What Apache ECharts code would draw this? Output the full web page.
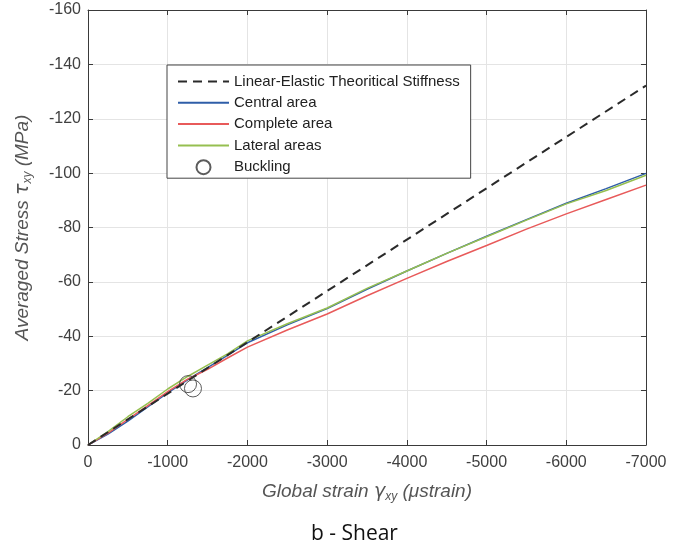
<!DOCTYPE html>
<html>
<head>
<meta charset="utf-8">
<script src="https://cdn.jsdelivr.net/npm/echarts@6/dist/echarts.min.js"></script>
<style>
html,body{margin:0;padding:0;background:#fff;}
#chart{width:687px;height:551px;}
</style>
</head>
<body>
<div id="chart"></div>
<script>
// ---- data ----
const strain = [0, -250, -500, -750, -1000, -1250, -1500, -1750, -2000, -2500, -3000, -3500, -4000, -4500, -5000, -5500, -6000, -6500, -7000];
const centralArea = [0, -4.0, -8.8, -14.0, -19.2, -24.0, -28.5, -33.0, -37.6, -44.2, -50.2, -57.3, -64.0, -70.5, -76.8, -82.9, -88.9, -94.3, -99.9];
const completeArea = [0, -4.4, -9.4, -14.5, -19.6, -24.2, -27.8, -32.0, -36.0, -42.3, -48.2, -54.9, -61.3, -67.5, -73.4, -79.4, -85.0, -90.3, -95.6];
const lateralAreas = [0, -4.9, -10.4, -15.3, -20.6, -25.2, -29.4, -33.5, -38.3, -44.6, -50.4, -57.6, -64.0, -70.5, -76.6, -82.7, -88.7, -93.6, -99.2];
const linearStrain = [0, -7000];
const linearStress = [0, -132.2];
const bucklingStrain = [-1255, -1317];
const bucklingStress = [-22.4, -20.8];
const xTicks = [0, -1000, -2000, -3000, -4000, -5000, -6000, -7000];
const yTicks = [0, -20, -40, -60, -80, -100, -120, -140, -160];
const seriesNames = ['Linear-Elastic Theoritical Stiffness', 'Central area', 'Complete area', 'Lateral areas', 'Buckling'];

const zip = (xs, ys) => xs.map((x, i) => [x, ys[i]]);

const chart = echarts.init(document.getElementById('chart'), null, {renderer: 'canvas'});
const labelColor = '#404040';
const axisColor = '#3a3a3a';
const gridColor = '#e4e4e4';
const nameColor = '#555';

const xMin = Math.min(...xTicks), xMax = Math.max(...xTicks);
const yMin = Math.min(...yTicks), yMax = Math.max(...yTicks);

const nameStyle = {
  color: nameColor, fontSize: 19, fontStyle: 'italic', fontFamily: 'Liberation Sans, Arial',
  rich: {
    g: {color: nameColor, fontSize: 19, fontStyle: 'italic', fontFamily: 'DejaVu Sans'},
    sub: {color: nameColor, fontSize: 12, fontStyle: 'italic', fontFamily: 'Liberation Sans, Arial', padding: [10, 0, 0, 0]}
  }
};

function mkX(main) {
  return {
    type: 'value', position: main ? 'bottom' : 'top', inverse: true,
    min: xMin, max: xMax, interval: 1000,
    axisLine: {show: true, onZero: false, lineStyle: {color: axisColor, width: 1}},
    axisTick: {show: true, inside: true, length: 5, lineStyle: {color: axisColor}},
    axisLabel: main ? {show: true, margin: 10, color: labelColor, fontSize: 16, fontFamily: 'Liberation Sans, Arial', formatter: v => String(v)} : {show: false},
    splitLine: {show: main, lineStyle: {color: gridColor, width: 1}},
    name: main ? 'Global strain {g|γ}{sub|xy} (μstrain)' : '',
    nameLocation: 'middle', nameGap: 36,
    nameTextStyle: nameStyle
  };
}
function mkY(main) {
  return {
    type: 'value', position: main ? 'left' : 'right', inverse: true,
    min: yMin, max: yMax, interval: 20,
    axisLine: {show: true, onZero: false, lineStyle: {color: axisColor, width: 1}},
    axisTick: {show: true, inside: true, length: 5, lineStyle: {color: axisColor}},
    axisLabel: main ? {show: true, margin: 7, color: labelColor, fontSize: 16, fontFamily: 'Liberation Sans, Arial', formatter: v => String(v)} : {show: false},
    splitLine: {show: main, lineStyle: {color: gridColor, width: 1}},
    name: main ? 'Averaged Stress {g|τ}{sub|xy} (MPa)' : '',
    nameLocation: 'middle', nameGap: 54,
    nameTextStyle: nameStyle
  };
}

const option = {
  backgroundColor: '#fff',
  animation: false,
  title: {
    text: 'b - Shear', left: 311, top: 524, padding: 0,
    textStyle: {fontFamily: 'Open Sans', fontSize: 21, fontWeight: 'normal', color: '#111'}
  },
  grid: {left: 88, right: 41, top: 10, bottom: 106},
  xAxis: [mkX(true), mkX(false)],
  yAxis: [mkY(true), mkY(false)],
  legend: {
    orient: 'vertical', left: 167, top: 65,
    padding: [9, 11, 3, 10], itemGap: 6.3, itemWidth: 51, itemHeight: 14,
    backgroundColor: '#fff', borderColor: '#444', borderWidth: 1,
    textStyle: {fontSize: 15, color: '#222', fontFamily: 'Liberation Sans, Arial'},
    selectedMode: false,
    data: [
      {name: seriesNames[0], itemStyle: {opacity: 0}},
      {name: seriesNames[1], itemStyle: {opacity: 0}},
      {name: seriesNames[2], itemStyle: {opacity: 0}},
      {name: seriesNames[3], itemStyle: {opacity: 0}},
      {name: seriesNames[4]}
    ]
  },
  series: [
    {name: seriesNames[0], type: 'line', data: zip(linearStrain, linearStress), symbol: 'none', z: 3,
     lineStyle: {color: '#2a2a2a', width: 2, type: [9, 6]}, itemStyle: {color: '#2a2a2a'}},
    {name: seriesNames[1], type: 'line', data: zip(strain, centralArea), symbol: 'none', z: 2,
     lineStyle: {color: '#2f5ea8', width: 1.5}, itemStyle: {color: '#2f5ea8'}},
    {name: seriesNames[2], type: 'line', data: zip(strain, completeArea), symbol: 'none', z: 2,
     lineStyle: {color: '#e85a5a', width: 1.5}, itemStyle: {color: '#e85a5a'}},
    {name: seriesNames[3], type: 'line', data: zip(strain, lateralAreas), symbol: 'none', z: 2,
     lineStyle: {color: '#96bf50', width: 1.5}, itemStyle: {color: '#96bf50'}},
    {name: seriesNames[4], type: 'scatter', data: zip(bucklingStrain, bucklingStress), symbol: 'circle', symbolSize: 17, z: 4,
     itemStyle: {color: 'rgba(0,0,0,0)', borderColor: '#333', borderWidth: 1}}
  ]
};
chart.setOption(option);
</script>
</body>
</html>
